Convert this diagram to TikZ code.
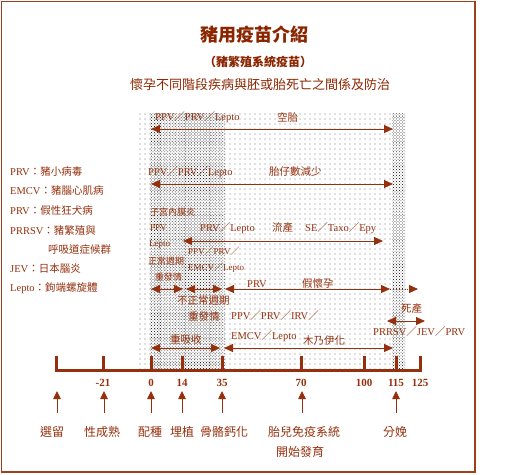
\documentclass[tikz,border=0pt]{standalone}
\usepackage{fontspec}
\setmainfont{Liberation Serif}
\newfontfamily\cjk{Noto Sans CJK TC}
\usetikzlibrary{arrows.meta,patterns.meta}
\definecolor{Rust}{HTML}{95300E}
\definecolor{Deep}{HTML}{8B2500}
\definecolor{Frame}{HTML}{A0401A}
\definecolor{Dot}{HTML}{7A7A7A}
\definecolor{DotDark}{HTML}{303030}
\newcommand{\fsl}{{\cjk ／}}
\newcommand{\fcol}{{\cjk ：}}
\tikzset{
  txt/.style={text=Rust,inner sep=0pt,anchor=west,font=\fontsize{10.5}{12}\selectfont},
  small/.style={txt,font=\fontsize{9}{10}\selectfont},
  tag/.style={text=Rust,inner sep=0pt,font=\cjk\fontsize{12}{14}\selectfont},
  num/.style={text=Rust,inner sep=0pt,font=\bfseries\fontsize{11}{12}\selectfont},
  head/.style={text=Deep,inner sep=0pt},
  span/.style={{Triangle[length=9pt,width=8pt]}-{Triangle[length=9pt,width=8pt]},draw=Rust,line width=.9pt},
  onward/.style={-{Triangle[length=9pt,width=8pt]},draw=Rust,line width=.9pt,dotted},
  upward/.style={-{Triangle[length=8pt,width=7.5pt]},draw=Rust,line width=.9pt},
  axis/.style={draw=Rust,line width=3pt},
  sparse/.style={pattern={Dots[distance=5pt,radius=.55pt]},pattern color=Dot},
  dense/.style={pattern={Dots[distance=2.1pt,angle=45,radius=.55pt]},pattern color=DotDark}
}
\begin{document}
\begin{tikzpicture}[x=1pt,y=-1pt]
  \useasboundingbox (0,0) rectangle (529,474);
  \draw[Frame,line width=1.2pt] (1.5,1.5) rectangle (475,472);
  \fill[sparse] (137,113) rectangle (392,370);
  \fill[dense] (150,113) rectangle (225,370);
  \fill[dense] (392,113) rectangle (405,370);

  \node[head,font=\cjk\bfseries\fontsize{18}{20}\selectfont] (ttl) at (254,35) {豬用疫苗介紹};
  \node[head,font=\cjk\bfseries\fontsize{12}{14}\selectfont] (sub) at (258,62) {（豬繁殖系統疫苗）};
  \node[head,font=\cjk\fontsize{13}{15}\selectfont] (lead) at (260,85) {懷孕不同階段疾病與胚或胎死亡之間係及防治};

  \node[txt] (lg1) at (10,172) {PRV\fcol{\cjk 豬小病毒}};
  \node[txt] (lg2) at (10,191) {EMCV\fcol{\cjk 豬腦心肌病}};
  \node[txt] (lg3) at (10,211) {PRV\fcol{\cjk 假性狂犬病}};
  \node[txt] (lg4) at (10,230) {PRRSV\fcol{\cjk 豬繁殖與}};
  \node[txt] (lg5) at (48,250) {\cjk 呼吸道症候群};
  \node[txt] (lg6) at (10,269) {JEV\fcol{\cjk 日本腦炎}};
  \node[txt] (lg7) at (10,288) {Lepto\fcol{\cjk 鉤端螺旋體}};

  \node[txt] (r1ag) at (155,117) {PPV\fsl PRV\fsl Lepto};
  \node[txt] (r1ef) at (277,117) {\cjk 空胎};
  \node[txt] (r2ag) at (148,172) {PPV\fsl PRV\fsl Lepto};
  \node[txt] (r2ef) at (269,172) {\cjk 胎仔數減少};
  \node[small] (endo) at (150,212) {\cjk 子宮內膜炎};
  \node[small] (ppv) at (150,228) {PPV};
  \node[txt] (r3ag) at (200,228) {PRV\fsl Lepto};
  \node[txt] (r3ef) at (272,228) {\cjk 流產};
  \node[txt] (r3tx) at (305,228) {SE\fsl Taxo\fsl Epy};
  \node[small] (lepto) at (149,245) {Lepto};
  \node[small] (r4ag) at (188,251) {PPV\fsl PRV\fsl};
  \node[small] (norm) at (148,261) {\cjk 正常週期};
  \node[small] (r4em) at (188,268) {EMCV\fsl Lepto};
  \node[small] (heat1) at (155,277) {\cjk 重發情};
  \node[txt] (prv) at (247,284) {PRV};
  \node[txt] (pseudo) at (302,284) {\cjk 假懷孕};
  \node[txt] (abn) at (177,301) {\cjk 不正常週期};
  \node[txt] (heat2) at (188,317) {\cjk 重發情};
  \node[txt] (r5ag) at (231,316) {PPV\fsl PRV\fsl IRV\fsl};
  \node[txt] (still) at (401,309) {\cjk 死產};
  \node[txt] (r6ag) at (373,332) {PRRSV\fsl JEV\fsl PRV};
  \node[txt] (r5em) at (231,336) {EMCV\fsl Lepto};
  \node[txt] (mummy) at (303,341) {\cjk 木乃伊化};
  \node[txt] (resorb) at (170,340) {\cjk 重吸收};

  \coordinate (a1s) at (151,129); \coordinate (a1e) at (393,129);
  \coordinate (a2s) at (151,184); \coordinate (a2e) at (393,184);
  \coordinate (a3s) at (183,241); \coordinate (a3e) at (383,241);
  \coordinate (a4a) at (151,289); \coordinate (a4b) at (183,289);
  \coordinate (a4c) at (186,289); \coordinate (a4d) at (222,289);
  \coordinate (a4e) at (225,289); \coordinate (a4f) at (390,289);
  \coordinate (a4g) at (418,289);
  \coordinate (a5a) at (151,348); \coordinate (a5b) at (220,348);
  \coordinate (a5c) at (224,348); \coordinate (a5d) at (393,348);
  \coordinate (a6s) at (387,321); \coordinate (a6e) at (425,321);
  \draw[span] (a1s) -- (a1e);
  \draw[span] (a2s) -- (a2e);
  \draw[span] (a3s) -- (a3e);
  \draw[span] (a4a) -- (a4b);
  \draw[span] (a4c) -- (a4d);
  \draw[span] (a4e) -- (a4f);
  \draw[onward] (a4f) -- (a4g);
  \draw[span] (a5a) -- (a5b);
  \draw[span] (a5c) -- (a5d);
  \draw[span] (a6s) -- (a6e);

  \draw[axis] (56,356) -- (56,370) -- (420,370) -- (420,356);
  \foreach \x in {103,151,182,222,301,364,396}
    \draw[axis] (\x,356) -- (\x,370);

  \node[num] (d21) at (103,383) {-21};
  \node[num] (d0) at (151,383) {0};
  \node[num] (d14) at (182,383) {14};
  \node[num] (d35) at (222,383) {35};
  \node[num] (d70) at (301,383) {70};
  \node[num] (d100) at (364,383) {100};
  \node[num] (d115) at (396,383) {115};
  \node[num] (d125) at (420,383) {125};

  \node[tag] (sel) at (52,432) {選留};
  \node[tag] (mat) at (102,432) {性成熟};
  \node[tag] (mate) at (150,432) {配種};
  \node[tag] (impl) at (182,432) {埋植};
  \node[tag] (bone) at (224,432) {骨骼鈣化};
  \node[tag] (immu) at (304,432) {胎兒免疫系統};
  \node[tag] (immu2) at (300,452) {開始發育};
  \node[tag] (birth) at (395,432) {分娩};

  \foreach \n/\x in {sel/57,mat/104,mate/151,impl/182,bone/222,immu/302,birth/396} {
    \coordinate (\n-lo) at (\x,413);
    \coordinate (\n-hi) at (\x,391);
    \draw[upward] (\n-lo) -- (\n-hi);
  }
\end{tikzpicture}
\end{document}
